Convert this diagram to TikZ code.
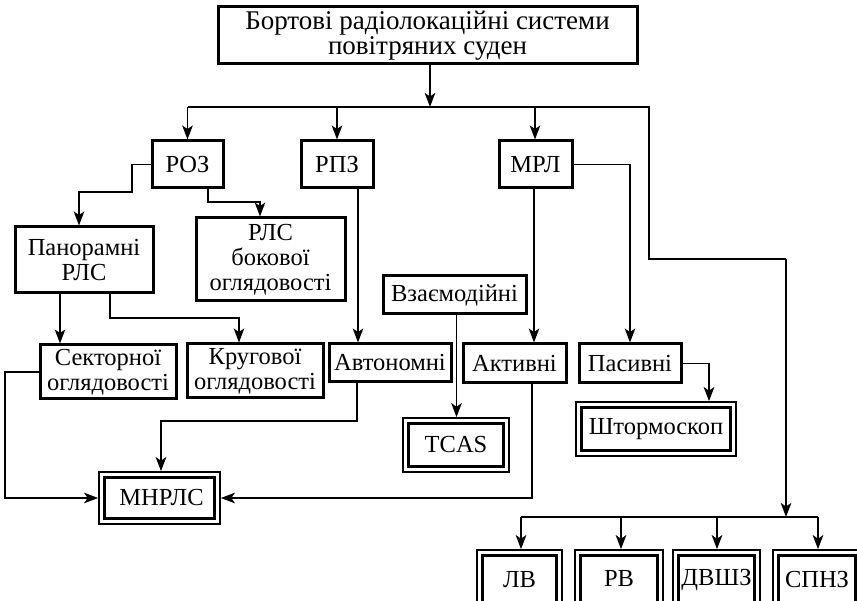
\documentclass[tikz,border=0pt]{standalone}
\usepackage{fontspec}
\setmainfont{Liberation Serif}
\usetikzlibrary{arrows.meta}
\tikzset{
  box/.style={draw, line width=3pt, inner sep=0pt, align=center,
    font=\fontsize{24.5}{25}\selectfont},
  dbox/.style={draw, line width=1.7pt, inner sep=0pt, align=center,
    font=\fontsize{24.5}{25}\selectfont,
    path picture={\draw[line width=3.2pt]
      ([shift={(5.5pt,-5.5pt)}]path picture bounding box.north west) rectangle
      ([shift={(-5.5pt,5.5pt)}]path picture bounding box.south east);}},
  conn/.style={line width=1.9pt},
  arr/.style={conn, -{Stealth[length=14pt,width=10.5pt,inset=3.5pt]}}
}
\begin{document}
\begin{tikzpicture}[x=1pt,y=-1pt]
\useasboundingbox (0,0) rectangle (857,601);
\clip (0,0) rectangle (857,601);
% nodes
\node[box, minimum width=419pt, minimum height=57pt,
  font=\fontsize{27}{25}\selectfont] (top) at (427.5,35.5)
  {Бортові радіолокаційні системи\\повітряних суден};
\node[box, minimum width=71pt, minimum height=47pt] (roz) at (187.5,164.5) {РОЗ};
\node[box, minimum width=72pt, minimum height=47pt] (rpz) at (337,164.5) {РПЗ};
\node[box, minimum width=73pt, minimum height=47pt] (mrl) at (535.5,164.5) {МРЛ};
\node[box, minimum width=138pt, minimum height=66pt] (pan) at (84,260) {Панорамні\\РЛС};
\node[box, minimum width=149pt, minimum height=83pt] (rls) at (270.5,259.5) {РЛС\\бокової\\оглядовості};
\node[box, minimum width=143pt, minimum height=38pt] (vz) at (454.5,295) {Взаємодійні};
\node[box, minimum width=136pt, minimum height=54pt] (sek) at (108,372) {Секторної\\оглядовості};
\node[box, minimum width=136pt, minimum height=54pt] (kru) at (255,371) {Кругової\\оглядовості};
\node[box, minimum width=122pt, minimum height=38pt] (avt) at (390,363) {Автономні};
\node[box, minimum width=103pt, minimum height=39pt] (akt) at (514.5,363.5) {Активні};
\node[box, minimum width=102pt, minimum height=39pt] (pas) at (630,363.5) {Пасивні};
\node[dbox, minimum width=106pt, minimum height=54pt] (tcas) at (456,445) {TCAS};
\node[dbox, minimum width=160pt, minimum height=54pt] (shtorm) at (656,429) {Штормоскоп};
\node[dbox, minimum width=121pt, minimum height=52pt] (mnrls) at (159.5,498) {\hspace*{4pt}МНРЛС};
\node[dbox, minimum width=85pt, minimum height=60pt] (lv) at (519.5,580) {\raisebox{-6pt}{ЛВ}};
\node[dbox, minimum width=88pt, minimum height=60pt] (rv) at (619,580) {\raisebox{3pt}{РВ}};
\node[dbox, minimum width=87pt, minimum height=60pt] (dvsh) at (716.5,580) {\raisebox{-4pt}{ДВШЗ}};
\node[dbox, minimum width=88pt, minimum height=60pt] (spnz) at (817,580) {\raisebox{-4pt}{СПНЗ}};
% bus coordinates
\coordinate (b1) at (430,107);
\coordinate (bR) at (649,107);
\coordinate (bC) at (649,259);
\coordinate (bD) at (786,259);
\coordinate (b2) at (786,517);
% main bus
\draw[arr] (top.south -| b1) -- (b1);
\draw[conn] (roz.north |- b1) -- (bR) -- (bC) -- (bD);
\draw[arr] (roz.north |- b1) -- (roz.north);
\draw[arr] (rpz.north |- b1) -- (rpz.north);
\draw[arr] ([xshift=-0.5pt]mrl.north |- b1) -- ([xshift=-0.5pt]mrl.north);
\draw[arr] (bD) -- (b2);
% bottom bus
\draw[conn] ([xshift=1.5pt]lv.north |- b2) -- ([xshift=1pt]spnz.north |- b2);
\draw[arr] ([xshift=1.5pt]lv.north |- b2) -- ([xshift=1.5pt]lv.north);
\draw[arr] ([xshift=2pt]rv.north |- b2) -- ([xshift=2pt]rv.north);
\draw[arr] ([xshift=0.5pt]dvsh.north |- b2) -- ([xshift=0.5pt]dvsh.north);
\draw[arr] ([xshift=1pt]spnz.north |- b2) -- ([xshift=1pt]spnz.north);
% ROZ branches
\draw[arr] (roz.west) -| (132,192) -| ([xshift=-5pt]pan.north);
\draw[arr] ([xshift=20.5pt]roz.south) |- (234,202) -| ([xshift=-10.5pt]rls.north);
% RPZ
\draw[arr] ([xshift=21pt]rpz.south) -- ([xshift=21pt]rpz.south |- avt.north);
% Panoramni
\draw[arr] ([xshift=-24pt]pan.south) -- ([xshift=-24pt]pan.south |- sek.north);
\draw[arr] ([xshift=26pt]pan.south) |- (200,318) -| ([xshift=-16pt]kru.north);
% Vzaiemodiini
\draw[arr] ([xshift=2pt]vz.south) -- ([xshift=2pt]vz.south |- tcas.north);
% MRL
\draw[arr] ([xshift=-1.5pt]mrl.south) -- ([xshift=-1.5pt]mrl.south |- akt.north);
\draw[arr] (mrl.east) -| (pas.north);
\draw[arr] (pas.east) -| ([xshift=53pt]shtorm.north);
% to MNRLS
\draw[arr] ([xshift=-33pt]avt.south) |- (250,421) -| ([xshift=1.5pt]mnrls.north);
\draw[arr] (sek.west) -| ([xshift=-93pt]mnrls.west) -- (mnrls.west);
\draw[arr] ([xshift=17.5pt]akt.south) |- (mnrls.east);
\end{tikzpicture}
\end{document}
